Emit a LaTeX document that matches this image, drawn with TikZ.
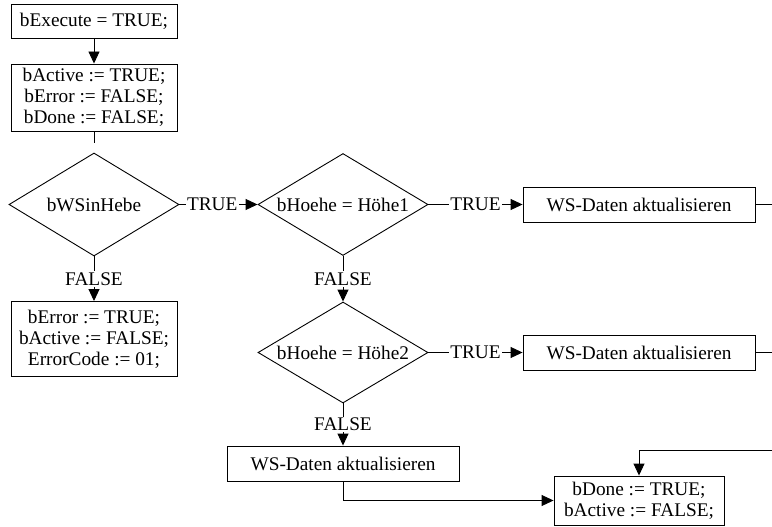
\documentclass[tikz,border=0pt]{standalone}
\usepackage{fontspec}
\setmainfont{Liberation Serif}
\usetikzlibrary{arrows.meta,shapes.geometric}
\begin{document}
\begin{tikzpicture}[x=1pt,y=-1pt,
  line width=0.9pt,
  every node/.style={font=\fontsize{19.3}{21.2}\selectfont},
  box/.style={draw, rectangle, align=center, inner sep=2pt},
  stepbox/.style={box, minimum width=166pt},
  wsbox/.style={box, minimum width=232pt, minimum height=35pt},
  dia/.style={draw, diamond, inner sep=0pt, minimum width=170pt, minimum height=102pt},
  lbl/.style={fill=white, inner sep=1.5pt},
  flow/.style={-{Triangle[length=12pt,width=11pt]}}]
  \useasboundingbox (0,0) rectangle (772,527);

  % start and initialisation
  \node[stepbox, minimum height=34pt] (b1) at (94,21) {bExecute = TRUE;};
  \node[stepbox, minimum height=67pt] (b2) at (94,97.5) {bActive := TRUE;\\ bError := FALSE;\\ bDone := FALSE;};

  % decisions
  \node[dia, minimum height=103pt] (d1) at (94,204.5) {\makebox[0pt]{bWSinHebe}};
  \node[dia] (d2) at (343,204.5) {\makebox[0pt]{bHoehe = Höhe1}};
  \node[dia, minimum height=101pt] (d3) at (343,352.5) {\makebox[0pt]{bHoehe = Höhe2}};

  % error branch
  \node[stepbox, minimum height=75pt] (b3) at (94,339) {bError := TRUE;\\ bActive := FALSE;\\ ErrorCode := 01;};

  % data update steps
  \node[wsbox] (ws1) at (639,204.5) {WS-Daten aktualisieren};
  \node[wsbox] (ws2) at (639,352.5) {WS-Daten aktualisieren};
  \node[wsbox] (ws3) at (343,463.5) {WS-Daten aktualisieren};

  % end
  \node[box, minimum width=170pt, minimum height=49pt] (done) at (639,500.5) {bDone := TRUE;\\ bActive := FALSE;};

  % free ends of the connectors
  \coordinate (c0) at (94,143);
  \coordinate (e1) at (772,204.5);
  \coordinate (e2) at (772,352.5);
  \coordinate (e3) at (772,450);

  % connectors
  \draw[flow] (b1) -- (b2);
  \draw (b2) -- (c0);
  \draw[flow] (d1.east) -- node[lbl, pos=0.42] {TRUE} (d2.west);
  \draw[flow] (d1.south) -- node[lbl] {FALSE} (b3.north);
  \draw[flow] (d2.east) -- node[lbl] {TRUE} (ws1.west);
  \draw[flow] (d2.south) -- node[lbl] {FALSE} (d3.north);
  \draw[flow] (d3.east) -- node[lbl] {TRUE} (ws2.west);
  \draw[flow] (d3.south) -- node[lbl] {FALSE} (ws3.north);
  \draw (ws1.east) -- (e1);
  \draw (ws2.east) -- (e2);
  \draw[flow] (ws3.south) |- (done.west);
  \draw[flow] (e3) -| (done.north);
\end{tikzpicture}
\end{document}
